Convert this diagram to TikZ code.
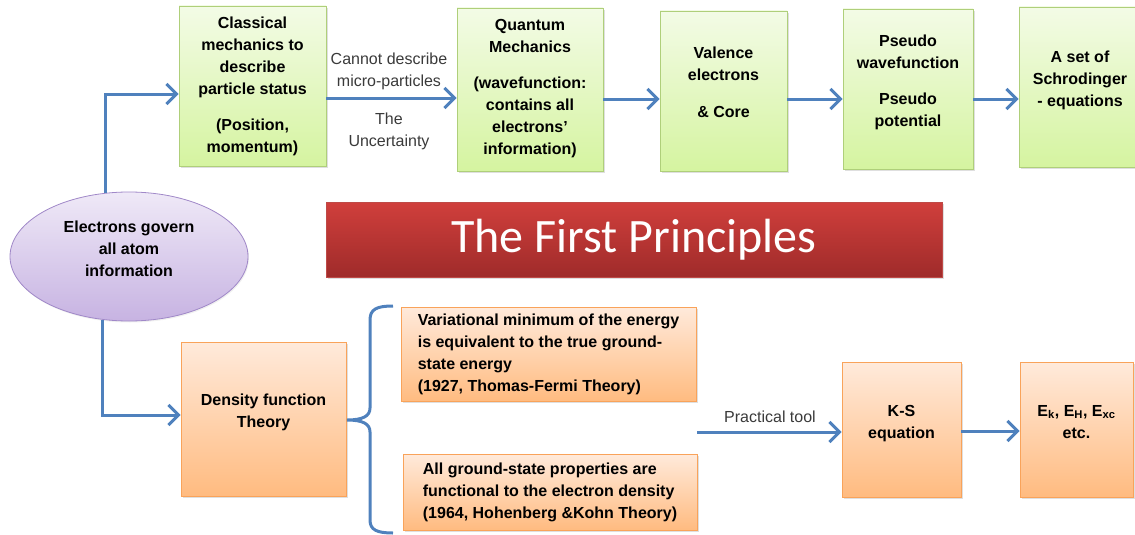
\documentclass[tikz,border=0pt]{standalone}
\usepackage{fontspec}
\setmainfont{Liberation Sans}
\newfontfamily\titlefont{Carlito}
\usetikzlibrary{arrows.meta,shadows,shapes.geometric}

\definecolor{arrowblue}{HTML}{4F81BD}
\definecolor{greentop}{HTML}{F3FBE6}
\definecolor{greenbot}{HTML}{D5F4A0}
\definecolor{greenline}{HTML}{AFCF7A}
\definecolor{orangetop}{HTML}{FFEADB}
\definecolor{orangebot}{HTML}{FFBB80}
\definecolor{orangeline}{HTML}{F9A35A}
\definecolor{purpletop}{HTML}{EFE9F7}
\definecolor{purplebot}{HTML}{C7B3E2}
\definecolor{purpleline}{HTML}{A088C8}
\definecolor{titletop}{HTML}{D03F3C}
\definecolor{titlebot}{HTML}{9F2B2A}
\definecolor{titleline}{HTML}{BE4A47}
\definecolor{labelgray}{HTML}{3A3A3A}

% empty last line, lifts the text in its box
\newcommand{\lift}[1][-6pt]{\\[#1]\mbox{}}

\tikzstyle{arrow} = [line width=3pt,draw=arrowblue,->,>={Straight Barb[length=10pt,width=20pt]}]
\tikzstyle{brace} = [line width=3pt,draw=arrowblue]
\tikzstyle{boxshadow} = [drop shadow={opacity=0.25,shadow xshift=1.5pt,shadow yshift=-2pt}]
\tikzstyle{greenbox} = [draw=greenline,line width=0.8pt,top color=greentop,bottom color=greenbot,boxshadow,align=center,font=\fontsize{16}{22}\selectfont\bfseries,inner sep=2pt]
\tikzstyle{orangebox} = [draw=orangeline,line width=0.8pt,top color=orangetop,bottom color=orangebot,boxshadow,align=center,font=\fontsize{16}{22}\selectfont\bfseries,inner sep=2pt]
\tikzstyle{tag} = [text=labelgray,align=center,font=\fontsize{16}{22}\selectfont]

\begin{document}
\begin{tikzpicture}[x=1pt,y=-1pt]
\useasboundingbox (0,0) rectangle (1135,535);

% top row
\node (cm) [greenbox, minimum width=147pt, minimum height=160pt] at (252.5,86) {Classical\\mechanics to\\describe\\particle status\\[14pt](Position,\\momentum)};
\node (qm) [greenbox, minimum width=146pt, minimum height=163pt] at (530,89.5) {Quantum\\Mechanics\\[14pt](wavefunction:\\contains all\\electrons'\\information)\lift[-16pt]};
\node (val) [greenbox, minimum width=127pt, minimum height=160pt] at (723.5,91) {Valence\\electrons\\[15pt]\& Core\lift[-4pt]};
\node (pseudo) [greenbox, minimum width=130pt, minimum height=160pt] at (908,89) {Pseudo\\wavefunction\\[14pt]Pseudo\\potential\lift};
\node (schro) [greenbox, minimum width=122pt, minimum height=160pt] at (1080,87) {A set of\\Schrodinger\\- equations\lift};

\node (cannot) [tag] at (389,71) {Cannot describe\\micro-particles};
\node (uncert) [tag] at (389,131) {The\\Uncertainty};

% middle
\node (elec) [ellipse, draw=purpleline, line width=0.8pt, top color=purpletop, bottom color=purplebot, drop shadow={opacity=0.12,shadow xshift=1pt,shadow yshift=-1.5pt}, inner sep=0pt, minimum width=238pt, minimum height=129pt, align=center, font=\fontsize{16}{22}\selectfont\bfseries] at (129,256.5) {Electrons govern\\all atom\\information\lift};
\node (title) [draw=titleline, line width=0.8pt, top color=titletop, bottom color=titlebot, boxshadow, minimum width=616pt, minimum height=75pt, text=white, font=\titlefont\fontsize{48}{58}\selectfont] at (634,239.5) {The First Principles};

% bottom row
\node (dft) [orangebox, minimum width=165pt, minimum height=154pt] at (263.5,419) {Density function\\Theory\lift};
\node (tf) [orangebox, align=left, minimum width=295pt, minimum height=94pt] at (548.5,354) {Variational minimum of the energy\\is equivalent to the true ground-\\state energy\\(1927, Thomas-Fermi Theory)};
\node (hk) [orangebox, align=left, minimum width=294pt, minimum height=76pt] at (550,492) {All ground-state properties are\\functional to the electron density\\(1964, Hohenberg \&Kohn Theory)};
\node (ks) [orangebox, minimum width=119pt, minimum height=135pt] at (901.5,429.5) {K-S\\equation\lift};
\node (exc) [orangebox, minimum width=113pt, minimum height=135pt] at (1076.5,429.5) {E\textsubscript{k}, E\textsubscript{H}, E\textsubscript{xc}\\etc.\lift};

\node (ptool) [tag] at (770,417) {Practical tool};
\coordinate (ptstart) at (697,432);

\draw [arrow] (elec.110) |- ([yshift=-8pt]cm.west);
\draw [arrow] (elec.247) |- ([yshift=4pt]dft.west);
\draw [arrow] ([yshift=-12pt]cm.east) -- ([yshift=-8.5pt]qm.west);
\draw [arrow] ([yshift=-9.5pt]qm.east) -- ([yshift=-8pt]val.west);
\draw [arrow] ([yshift=-8pt]val.east) -- ([yshift=-10pt]pseudo.west);
\draw [arrow] ([yshift=-10pt]pseudo.east) -- ([yshift=-12pt]schro.west);
\draw [arrow] (ptstart) -- ([yshift=-2.5pt]ks.west);
\draw [arrow] ([yshift=-1.5pt]ks.east) -- ([yshift=-1.5pt]exc.west);

\draw [brace] (393,306) .. controls (377,306) and (370,309) .. (370,320) -- (370,408) .. controls (370,416) and (363,420) .. (347,420) .. controls (363,420) and (370,424) .. (370,432) -- (370,520) .. controls (370,530) and (377,533) .. (393,533);

\end{tikzpicture}
\end{document}
